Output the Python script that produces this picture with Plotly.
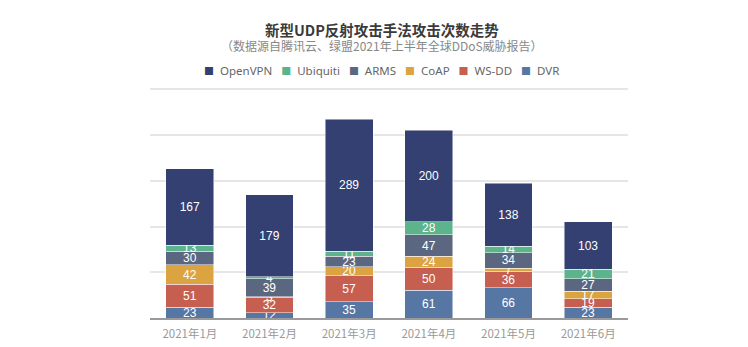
import plotly.graph_objects as go

months = ["2021年1月", "2021年2月", "2021年3月", "2021年4月", "2021年5月", "2021年6月"]
dvr = [23, 12, 35, 61, 66, 23]
wsdd = [51, 32, 57, 50, 36, 19]
coap = [42, 3, 20, 24, 7, 17]
arms = [30, 39, 23, 47, 34, 27]
ubiquiti = [13, 4, 11, 28, 14, 21]
openvpn = [167, 179, 289, 200, 138, 103]

series = [
    ("DVR", dvr, "#5676a4"),
    ("WS-DD", wsdd, "#c65f50"),
    ("CoAP", coap, "#dba441"),
    ("ARMS", arms, "#5b6780"),
    ("Ubiquiti", ubiquiti, "#5db38c"),
    ("OpenVPN", openvpn, "#343f72"),
]

fig = go.Figure()
for name, vals, color in series:
    fig.add_trace(go.Bar(
        x=months, y=vals, name=name,
        marker=dict(color=color, line=dict(color="rgba(255,255,255,0.6)", width=0.8)),
        text=[str(v) for v in vals], textposition="inside",
        insidetextanchor="middle", textangle=0,
        textfont=dict(color="white", size=12, family="Liberation Sans, Arial"),
        constraintext="none",
        showlegend=False,
    ))

PLOT_TOP, PLOT_BOT = 87, 318
def py(pix):
    return (PLOT_BOT - pix) / (PLOT_BOT - PLOT_TOP)

# legend drawn as a single text line (OpenVPN first)
NB = "\u00a0"
legend_items = [
    f"<span style='color:{c};font-size:10px'>■</span>{NB}{NB}{n}"
    for n, _, c in reversed(series)
]
legend_text = (NB * 3).join(legend_items)

cx = 0.485
fig.update_layout(
    barmode="stack",
    bargap=0.4,
    width=748, height=347,
    margin=dict(l=150, r=120, t=PLOT_TOP, b=347 - PLOT_BOT, autoexpand=False),
    paper_bgcolor="white", plot_bgcolor="white",
    font=dict(family="Noto Sans CJK SC, Noto Sans, sans-serif", color="#666"),
    uniformtext=dict(minsize=12, mode="show"),
    showlegend=False,
    xaxis=dict(showgrid=False, showline=True, linecolor="#9a9a9a", linewidth=1.5, automargin=False,
               ticks="", tickfont=dict(size=11.5, color="#999"), ticklabelstandoff=4),
    yaxis=dict(range=[0, 505], dtick=100, showgrid=True, gridcolor="#e6e6e6", gridwidth=1.5,
               showticklabels=False, zeroline=False, ticks="", automargin=False),
    annotations=[
        dict(text="<b>新型UDP反射攻击手法攻击次数走势</b>", x=cx, xref="paper", y=py(29), yref="paper",
             xanchor="center", yanchor="middle", showarrow=False,
             font=dict(size=14.5, color="#3a3a3a", family="Noto Sans CJK SC")),
        dict(text="（数据源自腾讯云、绿盟2021年上半年全球DDoS威胁报告）", x=cx, xref="paper", y=py(46), yref="paper",
             xanchor="center", yanchor="middle", showarrow=False,
             font=dict(size=12, color="#888", family="Noto Sans CJK SC")),
        dict(text=legend_text, x=cx, xref="paper", y=py(71), yref="paper",
             xanchor="center", yanchor="middle", showarrow=False,
             font=dict(size=11.5, color="#666", family="Noto Sans, Noto Sans CJK SC")),
    ],
)

fig.write_html("out.html")
